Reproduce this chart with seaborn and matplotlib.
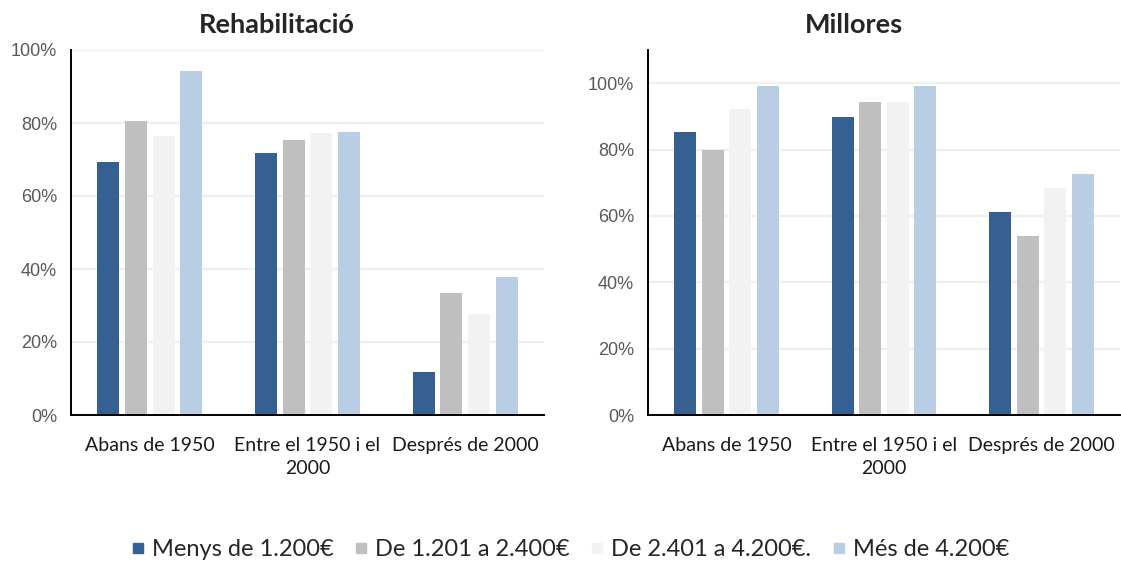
import matplotlib
matplotlib.use("Agg")
import matplotlib.pyplot as plt
import seaborn as sns
import pandas as pd
from matplotlib.lines import Line2D
from matplotlib.ticker import PercentFormatter, FixedLocator

# === DATA ===
periods = ["Abans de 1950", "Entre el 1950 i el\n2000", "Després de 2000"]
incomes = ["Menys de 1.200€", "De 1.201 a 2.400€", "De 2.401 a 4.200€.", "Més de 4.200€"]
colors = ["#376092", "#bfbfbf", "#f2f2f2", "#b9cde5"]

# Rehabilitació (%), one list per income band, in period order
rehab_menys = [69.2, 71.7, 11.9]
rehab_1201 = [80.6, 75.3, 33.4]
rehab_2401 = [76.4, 77.3, 27.6]
rehab_mes = [94.2, 77.4, 37.8]

# Millores (%)
mill_menys = [85.2, 89.7, 61.3]
mill_1201 = [79.9, 94.4, 54.0]
mill_2401 = [92.3, 94.4, 68.4]
mill_mes = [99.2, 99.2, 72.6]


def long_df(series):
    rows = []
    for inc, vals in zip(incomes, series):
        for per, v in zip(periods, vals):
            rows.append({"periode": per, "ingressos": inc, "pct": v})
    return pd.DataFrame(rows)


df_rehab = long_df([rehab_menys, rehab_1201, rehab_2401, rehab_mes])
df_mill = long_df([mill_menys, mill_1201, mill_2401, mill_mes])

# === STYLE ===
sns.set_style("white")
plt.rcParams["font.family"] = ["Lato", "DejaVu Sans"]

W, H = 1121, 566
fig = plt.figure(figsize=(W / 100, H / 100), dpi=100)

ax1 = fig.add_axes([71 / W, 151 / H, 473 / W, 365 / H])
ax2 = fig.add_axes([648 / W, 151 / H, 472 / W, 365 / H])


def draw(ax, df, ymax):
    sns.barplot(data=df, x="periode", y="pct", hue="ingressos", hue_order=incomes,
                palette=colors, saturation=1, width=0.7, gap=0.2, legend=False, ax=ax,
                edgecolor="none", zorder=2)
    ax.set_xlim(-0.5, 2.5)
    ax.set_ylim(0, ymax)
    ax.yaxis.set_major_locator(FixedLocator([0, 20, 40, 60, 80, 100]))
    ax.yaxis.set_major_formatter(PercentFormatter(decimals=0))
    ax.set_xlabel("")
    ax.set_ylabel("")
    ax.yaxis.grid(True, color="#efefef", lw=1.6, zorder=0)
    ax.set_axisbelow(True)
    for s in ["top", "right"]:
        ax.spines[s].set_visible(False)
    for s in ["left", "bottom"]:
        ax.spines[s].set_color("black")
        ax.spines[s].set_linewidth(1.4)
    ax.tick_params(axis="y", direction="out", length=5, width=1, color="black",
                   labelcolor="#595959", labelsize=13, pad=5)
    for lab in ax.get_yticklabels():
        lab.set_fontfamily("Liberation Sans")
    ax.set_xticks([0, 1, 2])
    ax.set_xticklabels(periods, fontsize=14, color="#1a1a1a", linespacing=1.4)
    ax.tick_params(axis="x", which="major", length=0, pad=16)
    ax.set_xticks([-0.5, 0.5, 1.5, 2.5], minor=True)
    ax.tick_params(axis="x", which="minor", direction="out", length=8, width=1.4, color="black")


draw(ax1, df_rehab, 100)
draw(ax2, df_mill, 110)

fig.text(277 / W, 1 - 25 / H, "Rehabilitació", ha="center", va="center",
         fontsize=19.5, fontweight="bold")
fig.text(854 / W, 1 - 25 / H, "Millores", ha="center", va="center",
         fontsize=19.5, fontweight="bold")

handles = [Line2D([], [], marker="s", ls="none", markersize=6.5, color=c) for c in colors]
fig.legend(handles, incomes, loc="center", bbox_to_anchor=(570 / W, 1 - 550 / H),
           ncol=4, frameon=False, fontsize=17, handlelength=0.6,
           handletextpad=0.3, columnspacing=0.85)

fig.savefig("out.png", dpi=100)
